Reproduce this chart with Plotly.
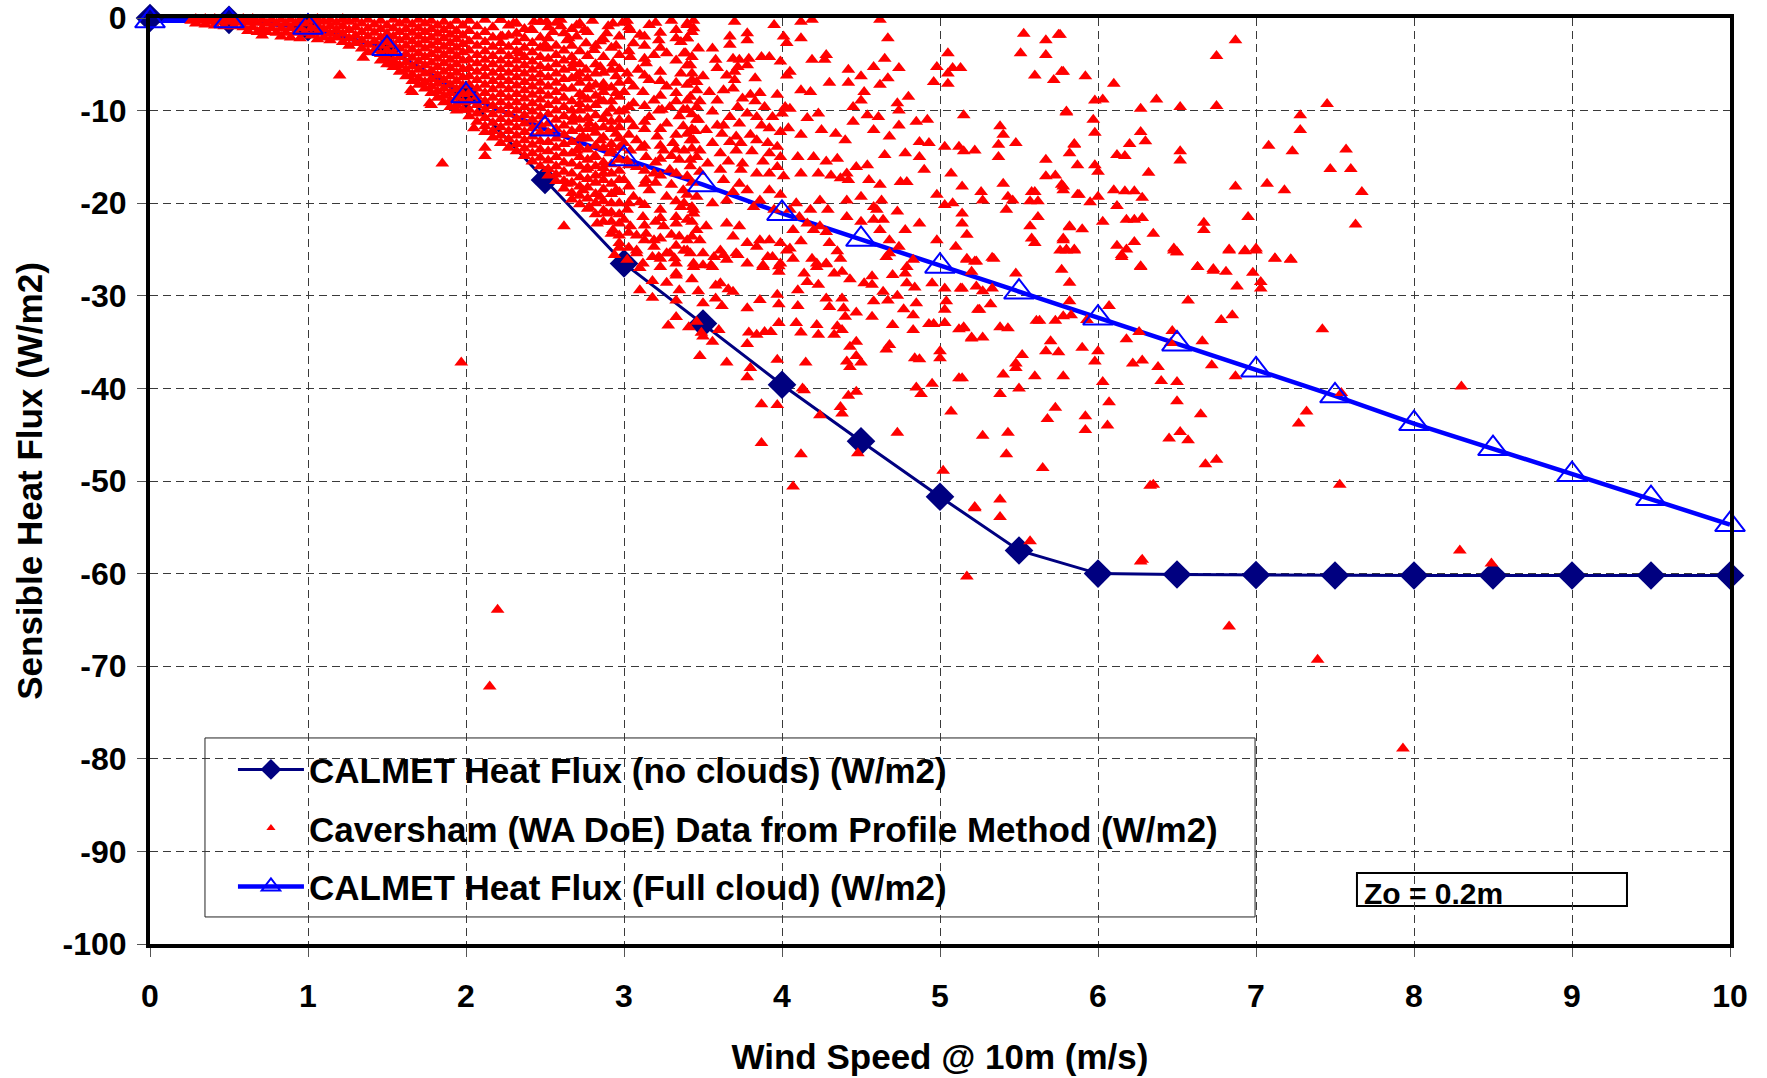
import plotly.graph_objects as go

# ---------------- data ----------------
wind_speed = [0, 0.5, 1, 1.5, 2, 2.5, 3, 3.5, 4, 4.5, 5, 5.5, 6, 6.5, 7, 7.5, 8, 8.5, 9, 9.5, 10]
flux_no_clouds = [0.0, -0.2, -1.0, -3.3, -8.3, -17.5, -26.5, -33.0, -39.6, -45.7, -51.7, -57.5,
                  -60.0, -60.1, -60.15, -60.2, -60.2, -60.2, -60.2, -60.2, -60.2]
flux_full_cloud = [-0.3, -0.3, -1.0, -3.3, -8.4, -12.0, -15.2, -18.0, -21.1, -23.9, -26.8, -29.6,
                   -32.4, -35.2, -38.0, -40.8, -43.8, -46.5, -49.3, -51.9, -54.7]

x_tick_vals = [0, 1, 2, 3, 4, 5, 6, 7, 8, 9, 10]
x_tick_text = ["0", "1", "2", "3", "4", "5", "6", "7", "8", "9", "10"]
y_tick_vals = [0, -10, -20, -30, -40, -50, -60, -70, -80, -90, -100]
y_tick_text = ["0", "-10", "-20", "-30", "-40", "-50", "-60", "-70", "-80", "-90", "-100"]

# Caversham observations: dense band at low wind speed, read column by column (x, [y ...])
caversham_dense = [
    (0.26, [-0.3]), (0.29, [-0.1, -0.6]), (0.32, [-0.3]), (0.35, [-0.1, -0.7]),
    (0.38, [-0.4]), (0.41, [-0.1, -0.8]), (0.44, [-0.4]), (0.47, [-0.1, -0.9]),
    (0.50, [-0.4]), (0.53, [-0.1, -0.9]), (0.56, [-0.5]), (0.59, [-0.1, -1.0]),
    (0.62, [-0.5, -1.4]), (0.65, [-0.1, -1.0]), (0.68, [-0.5, -1.5]), (0.71, [-0.2, -1.1, -1.9]),
    (0.74, [-0.6, -1.5]), (0.77, [-0.2, -1.1]), (0.80, [-0.6, -1.6]), (0.83, [-0.2, -1.1, -2.0]),
    (0.86, [-0.6, -1.6]), (0.89, [-0.2, -1.1, -2.1]), (0.92, [-0.6, -1.6]), (0.95, [-0.2, -1.1, -2.2]),
    (0.98, [-0.6, -1.6]),
    (1.02, [-0.3, -1.1, -1.9]), (1.06, [-0.1, -0.8, -1.6, -2.3]), (1.10, [-0.4, -1.2, -2.1]),
    (1.14, [-0.2, -0.9, -1.7, -2.4]), (1.18, [-0.5, -1.3, -2.1]), (1.22, [-0.1, -0.9, -1.7, -2.6]),
    (1.26, [-0.4, -1.3, -2.2, -3.0]), (1.30, [-0.2, -1.0, -1.9, -2.7]), (1.34, [-0.6, -1.5, -2.4, -3.3]),
    (1.38, [-0.2, -1.1, -2.0, -2.9, -3.7]), (1.42, [-0.7, -1.6, -2.5, -3.5]),
    (1.46, [-0.3, -1.2, -2.1, -3.0, -3.9, -4.6]), (1.50, [-0.8, -1.7, -2.6, -3.5, -4.3, -5.0]),
    (1.54, [-0.2, -1.1, -2.0, -2.9, -3.8, -4.6, -5.3]), (1.58, [-0.6, -1.5, -2.4, -3.3, -4.2, -5.1, -5.8]),
    (1.62, [-0.3, -1.2, -2.1, -3.0, -3.9, -4.8, -5.6, -6.3]),
    (1.66, [-0.7, -1.6, -2.5, -3.4, -4.3, -5.2, -6.1, -6.8]),
    (1.70, [-0.2, -1.1, -2.0, -2.9, -3.8, -4.7, -5.6, -6.5, -7.2]),
    (1.74, [-0.6, -1.5, -2.4, -3.3, -4.2, -5.1, -6.0, -6.9, -7.6]),
    (1.78, [-0.3, -1.2, -2.1, -3.0, -3.9, -4.8, -5.7, -6.6, -7.4, -8.1]),
    (1.82, [-0.8, -1.7, -2.6, -3.5, -4.4, -5.3, -6.2, -7.1, -7.9, -8.6]),
    (1.86, [-0.4, -1.3, -2.2, -3.1, -4.0, -4.9, -5.8, -6.7, -7.6, -8.4, -9.1]),
    (1.90, [-0.9, -1.8, -2.7, -3.6, -4.5, -5.4, -6.3, -7.2, -8.1, -8.9, -9.6]),
    (1.94, [-0.3, -1.4, -2.3, -3.2, -4.1, -5.0, -5.9, -6.8, -7.7, -8.6, -9.4, -10.0]),
    (1.98, [-0.8, -1.9, -2.8, -3.7, -4.6, -5.5, -6.4, -7.3, -8.2, -9.1, -9.9]),
    (2.02, [-0.3, -1.4, -2.5, -3.5, -4.5, -5.4, -6.3, -7.2, -8.1, -9.0, -9.9, -10.6]),
    (2.07, [-0.9, -2.0, -3.0, -4.0, -4.9, -5.8, -6.7, -7.6, -8.5, -9.4, -10.3, -11.2]),
    (2.12, [-0.2, -1.5, -2.6, -3.6, -4.5, -5.4, -6.3, -7.2, -8.1, -9.0, -9.9, -10.8, -11.7, -12.3]),
    (2.17, [-1.0, -2.1, -3.1, -4.1, -5.0, -5.9, -6.8, -7.7, -8.6, -9.5, -10.4, -11.3, -12.2, -12.9]),
    (2.22, [-0.2, -2.0, -2.7, -3.6, -4.6, -5.5, -6.4, -7.3, -8.2, -9.1, -10.0, -10.9, -11.8, -12.7, -13.5]),
    (2.27, [-0.8, -1.9, -3.1, -4.1, -5.0, -5.9, -6.8, -7.7, -8.6, -9.5, -10.4, -11.3, -12.2, -13.1, -14.0]),
    (2.32, [-0.6, -1.7, -2.6, -3.6, -4.6, -5.5, -6.4, -7.3, -8.2, -9.1, -10.0, -10.9, -11.8, -12.7, -13.6, -14.4]),
    (2.37, [-1.2, -2.2, -3.2, -4.2, -5.1, -6.0, -6.9, -7.8, -8.7, -9.6, -10.5, -11.4, -12.3, -13.2, -14.1, -14.9]),
    (2.42, [-1.3, -2.7, -3.7, -4.7, -5.6, -6.5, -7.4, -8.3, -9.2, -10.1, -11.0, -11.9, -12.8, -13.7, -14.6, -15.5]),
    (2.47, [-0.4, -2.1, -3.2, -4.2, -5.2, -6.1, -7.0, -7.9, -8.8, -9.7, -10.6, -11.5, -12.4, -13.3, -14.2, -15.1, -16.0]),
    (2.52, [-1.0, -2.2, -3.3, -4.4, -5.4, -6.4, -7.4, -8.4, -9.4, -10.4, -11.4, -12.4, -13.4, -14.4, -15.4, -16.3, -17.0]),
    (2.57, [-0.5, -3.0, -4.0, -5.0, -6.0, -7.0, -8.0, -9.0, -10.0, -11.0, -12.0, -13.0, -14.0, -15.0, -16.0, -16.9, -17.6]),
    (2.62, [-3.5, -4.6, -5.6, -6.6, -7.6, -8.6, -9.6, -10.6, -11.6, -12.6, -13.6, -14.6, -15.6, -16.6, -17.6, -18.4]),
    (2.67, [-1.2, -3.0, -4.2, -5.4, -6.5, -7.6, -9.0, -10.0, -11.2, -12.2, -13.4, -14.6, -15.7, -16.8, -17.8, -18.9, -19.6]),
    (2.72, [-3.6, -5.0, -6.0, -7.0, -8.2, -9.3, -10.0, -11.0, -12.0, -13.0, -14.0, -15.0, -16.0, -17.2, -18.2, -19.2, -20.1]),
    (2.77, [-1.5, -4.1, -6.5, -7.7, -8.8, -9.8, -10.8, -12.0, -13.0, -14.2, -15.3, -16.2, -17.4, -18.3, -19.5, -20.6]),
    (2.82, [-3.0, -5.0, -6.0, -7.2, -8.4, -9.4, -10.5, -11.8, -12.4, -13.8, -14.9, -16.0, -17.0, -17.8, -19.0, -20.0, -21.2]),
    (2.87, [-2.3, -4.2, -5.9, -7.5, -8.0, -9.0, -10.9, -11.8, -12.9, -14.0, -15.6, -16.2, -17.5, -18.5, -19.8, -20.8, -22.0]),
    (2.92, [-3.2, -5.6, -7.5, -9.0, -9.8, -11.2, -12.0, -13.6, -14.3, -15.8, -16.8, -17.9, -19.0, -20.0, -21.0, -22.0, -23.3]),
    (2.97, [-4.0, -5.5, -7.0, -8.5, -10.1, -11.8, -13.0, -14.0, -15.3, -16.5, -17.5, -18.8, -20.0, -21.2, -22.2, -23.5, -24.8]),
    (3.03, [-1.0, -3.6, -6.8, -9.6, -11.0, -12.6, -15.9, -18.2, -20.0, -23.2, -24.8]),
    (3.13, [-2.0, -4.4, -6.2, -9.5, -11.2, -13.8, -16.5, -17.9, -20.2, -22.4, -24.0]),
    (3.23, [-1.6, -3.2, -6.8, -8.4, -12.0, -13.8, -15.2, -17.0, -21.6, -23.8, -26.0]),
    (3.33, [-2.2, -4.6, -7.0, -9.0, -12.6, -14.2, -16.8, -19.8, -22.2, -24.6, -27.8]),
    (3.43, [-1.5, -4.2, -6.0, -10.4, -12.0, -14.1, -17.8, -20.4, -22.0, -23.6, -28.2]),
    (2.55, [-1.5]), (2.60, [-0.9]), (2.65, [-2.2]), (2.70, [-0.8]), (2.75, [-1.3]),
    (2.80, [-0.3]), (2.85, [-2.5]), (2.90, [-0.9]), (2.95, [-3.0]), (2.99, [-0.5]),
]

# Caversham observations: individually read points (x, y)
caversham_points_a = [
    (1.35, -4.3), (1.2, -6.2), (1.85, -15.7), (1.66, -8.0), (1.78, -9.4), (1.54, -5.0), (1.65, -7.8),
    (1.77, -9.2), (2.05, -11.9), (2.12, -14.0), (2.12, -14.9), (2.62, -22.5), (1.97, -37.2),
    (2.2, -63.9), (2.15, -72.2),
    (2.22, -0.2), (2.3, -0.6), (2.43, -0.4), (2.51, -0.4), (2.6, -0.2), (2.72, -0.6), (2.93, -0.6),
    (3.16, -0.76), (3.4, -0.6), (2.23, -2.0), (2.32, -1.66), (2.41, -1.3), (2.5, -2.9), (2.62, -1.66),
    (2.64, -2.4), (2.7, -2.0), (2.76, -2.74), (2.89, -1.66), (2.97, -2.0), (3.04, -1.3), (3.06, -2.74),
    (3.33, -1.3), (3.4, -2.2), (2.81, -3.46), (3.04, -4.2), (3.27, -3.8), (3.38, -3.8), (2.34, -3.8),
    (2.68, -4.9), (2.76, -5.6), (2.85, -5.3), (2.93, -4.9), (3.02, -6.0), (3.14, -4.9), (3.23, -5.8),
    (3.42, -5.1), (3.46, -6.9), (2.7, -6.3), (2.78, -7.4), (2.87, -7.1), (2.95, -6.3), (3.06, -7.4),
    (3.16, -6.7), (3.27, -7.4), (3.33, -8.1), (3.42, -8.5), (2.74, -8.5), (2.85, -8.9), (2.95, -8.1),
    (3.06, -9.2), (3.19, -8.9), (3.29, -9.6), (3.375, -9.9), (3.46, -9.6),
    (2.68, -10.7), (2.78, -11.4), (2.89, -10.3), (2.97, -11.0), (3.06, -11.7), (3.16, -10.7),
    (3.27, -11.4), (3.375, -11.7), (3.46, -11.0), (2.74, -12.8), (2.85, -13.2), (2.95, -12.5),
    (3.08, -13.2), (3.21, -12.8), (3.31, -13.5), (3.42, -13.2), (2.7, -14.3), (2.81, -15.0),
    (2.91, -14.6), (3.04, -14.3), (3.14, -15.0), (3.25, -14.3), (3.35, -15.3), (3.46, -15.0),
    (2.76, -16.4), (2.87, -16.8), (3.08, -16.1), (3.19, -16.8), (3.29, -16.4), (3.4, -17.1), (3.14, -17.5),
    (2.64, -17.9), (2.74, -18.6), (2.85, -19.3), (2.95, -18.6), (3.06, -19.3), (3.16, -18.6),
    (3.27, -19.3), (3.375, -18.6), (3.46, -19.3), (2.78, -20.4), (2.89, -21.1), (3.02, -20.7),
    (3.12, -21.5), (3.23, -20.7), (3.33, -21.5), (3.44, -21.1), (2.83, -22.2), (2.93, -22.9),
    (3.04, -22.5), (3.14, -23.3), (3.25, -22.5), (3.35, -23.6), (3.46, -22.9), (2.97, -24.3),
    (3.08, -25.1), (3.19, -24.7), (3.29, -25.4), (3.4, -25.1), (3.02, -26.1), (3.12, -26.5),
    (3.23, -26.9), (3.33, -26.5), (3.44, -26.9), (3.19, -24.0),
    (3.02, -0.3), (3.1, -1.8), (3.13, -3.0), (3.2, -0.5), (3.22, -2.4), (3.3, -0.3), (3.36, -2.6),
    (3.44, -0.3), (3.47, -3.3), (3.09, -5.6), (3.19, -4.0), (3.36, -6.0), (3.0, -8.0), (3.12, -8.0),
    (3.24, -9.9), (3.4, -7.2), (3.0, -10.0), (3.13, -12.0), (3.22, -10.0), (3.35, -10.6), (3.45, -12.2),
    (3.0, -13.5), (3.11, -14.0), (3.2, -15.6), (3.3, -14.9), (3.42, -16.0), (3.02, -15.4), (3.0, -17.5),
    (3.1, -19.9), (3.2, -17.8), (3.3, -18.0), (3.38, -20.0), (3.0, -21.8), (3.08, -23.5), (3.2, -22.0),
    (3.3, -23.4), (3.4, -24.0), (3.1, -27.0), (3.22, -25.8),
]

caversham_points_b = [
    (3.40, -0.76), (3.44, -1.12), (3.7, -0.4), (3.95, -0.76), (3.67, -2.0), (3.78, -1.66), (3.78, -2.4),
    (4.01, -2.0), (4.03, -2.7), (3.4, -2.2), (3.56, -3.3), (3.67, -2.9), (3.39, -3.8),
    (3.58, -4.5), (3.69, -4.4), (3.73, -4.5), (3.79, -4.4), (3.87, -4.2), (3.92, -4.2), (3.99, -4.7),
    (3.4, -5.1), (3.59, -5.4), (3.7, -5.8), (3.72, -5.3), (3.78, -5.1), (3.43, -6.7), (3.5, -6.3),
    (3.65, -6.2), (3.7, -6.7), (3.83, -6.5), (4.03, -6.2), (4.05, -5.8),
    (3.46, -7.8), (3.54, -8.0), (3.63, -7.8), (3.69, -7.6), (3.75, -8.7), (3.8, -8.3), (3.86, -8.1),
    (3.97, -8.3), (3.4, -8.9), (3.48, -9.0), (3.59, -8.9), (3.72, -9.6), (3.83, -9.0), (3.89, -9.6),
    (4.02, -9.6), (4.05, -9.8), (3.4, -9.9), (3.56, -10.1), (3.67, -10.7),
    (3.78, -10.3), (3.84, -10.7), (3.94, -10.7), (4.0, -10.3), (3.47, -11.0), (3.59, -11.6),
    (3.63, -11.6), (3.73, -11.4), (3.87, -11.6), (3.92, -11.9), (3.4, -12.5), (3.52, -12.1),
    (3.62, -12.5), (3.71, -12.8), (3.8, -12.6), (3.99, -12.3), (4.04, -11.9), (3.44, -13.2),
    (3.56, -13.5), (3.67, -13.4), (3.74, -13.5), (3.84, -13.2), (3.91, -13.5), (3.97, -13.9),
    (3.38, -14.3), (3.48, -14.3), (3.61, -14.6), (3.71, -14.3), (3.81, -14.4), (3.92, -14.6),
    (3.99, -15.0), (3.42, -15.3), (3.53, -15.7), (3.66, -15.5), (3.75, -15.7), (3.88, -15.5),
    (3.97, -16.1), (3.48, -16.6), (3.61, -16.4), (3.74, -16.4), (3.84, -16.8), (3.92, -16.8), (4.01, -17.1),
    (3.63, -17.5), (3.73, -17.9), (3.69, -18.8), (3.78, -18.6), (3.86, -19.7), (3.92, -18.6),
    (3.4, -19.1), (3.36, -20.4), (3.56, -20.0), (3.65, -19.7), (3.44, -20.7), (3.99, -19.1),
    (3.95, -20.7), (4.05, -20.7), (3.82, -20.4),
    (3.4, -21.8), (3.52, -22.5), (3.48, -24.0), (3.65, -22.2), (3.73, -22.5), (3.69, -23.6),
    (3.78, -24.3), (3.86, -24.0), (3.92, -24.0), (3.99, -24.3), (3.38, -25.1), (3.5, -25.4),
    (3.61, -25.1), (3.71, -25.4), (3.84, -24.7), (3.94, -25.8), (3.44, -26.5), (3.56, -26.9),
    (3.65, -26.1), (3.78, -26.5), (3.88, -26.9), (3.99, -26.5), (4.03, -25.1), (4.11, -21.5),
    (4.16, -22.2), (4.07, -22.9),
    (4.09, -20.0), (4.18, -20.7), (4.24, -19.7), (4.29, -20.7), (4.41, -19.7), (4.5, -19.3),
]

caversham_points_c = [
    (4.12, -0.4), (4.19, -0.2), (4.62, -0.2), (4.12, -2.2), (4.67, -2.2), (4.19, -4.5), (4.27, -4.5),
    (4.28, -4.0), (4.42, -5.6), (4.58, -5.3), (4.65, -4.4), (4.74, -5.4), (4.5, -6.3), (4.67, -6.5),
    (4.98, -5.3), (5.05, -3.8), (5.08, -5.4), (5.13, -5.4), (5.05, -6.0), (4.96, -6.9), (5.05, -7.1),
    (4.3, -7.0), (4.42, -7.0), (4.62, -7.2), (4.12, -7.8), (4.18, -8.0), (4.52, -8.0), (4.5, -8.9),
    (4.73, -9.2), (4.8, -8.5), (4.45, -9.6), (4.54, -10.5), (4.61, -10.7), (4.74, -10.0), (4.23, -10.3),
    (4.16, -10.8), (4.45, -11.2), (4.58, -12.1), (4.74, -11.6), (4.85, -11.2), (4.92, -11.0),
    (4.25, -12.1), (4.34, -12.5), (4.12, -12.6), (4.4, -13.2), (4.68, -12.8), (4.87, -13.4),
    (4.93, -13.5), (5.15, -10.5), (5.38, -11.7), (5.4, -12.6), (5.48, -13.5), (5.37, -13.7),
    (5.03, -13.9), (5.12, -13.9), (5.15, -14.4), (5.22, -14.3), (5.37, -15.0), (5.67, -15.3),
    (5.8, -10.1), (5.85, -13.7), (5.82, -14.6), (5.53, -1.7), (5.67, -2.4), (5.75, -1.8), (5.51, -3.8),
    (5.67, -4.0), (5.6, -6.2), (5.72, -6.7), (5.77, -5.8),
    (4.1, -15.0), (4.2, -15.0), (4.28, -15.5), (4.35, -15.2), (4.65, -14.8), (4.78, -14.6), (4.87, -15.0),
    (4.12, -16.8), (4.23, -16.8), (4.31, -17.0), (4.41, -16.8), (4.47, -16.1), (4.54, -15.9),
    (4.37, -17.3), (4.42, -17.5), (4.55, -17.5), (4.62, -18.0), (4.75, -17.7), (4.79, -17.7),
    (4.9, -16.4), (5.07, -16.8), (5.14, -18.2), (5.26, -18.8), (5.27, -19.7), (5.4, -17.9),
    (5.43, -19.3), (5.46, -19.7), (5.58, -18.8), (5.6, -18.8), (5.67, -17.1), (5.73, -17.0),
    (5.77, -18.0), (5.78, -18.6), (5.87, -19.1), (5.62, -19.8), (5.57, -19.8), (5.42, -20.7),
    (5.03, -20.2), (5.08, -20.0), (5.14, -21.1), (5.14, -22.2), (4.98, -19.1), (4.63, -19.7),
    (4.58, -20.4), (4.6, -20.7), (4.73, -20.9), (4.41, -21.5), (4.5, -22.0), (4.58, -21.8),
    (4.64, -21.8), (4.62, -22.9), (4.68, -24.0), (4.78, -22.9), (4.87, -22.2), (4.98, -24.0),
    (5.17, -23.4), (5.1, -24.7), (5.17, -26.0), (5.34, -26.0), (5.57, -22.5), (5.62, -21.5),
    (5.58, -23.8), (5.6, -24.3), (5.78, -24.0), (5.82, -22.5), (5.76, -25.1), (5.8, -25.1),
    (5.85, -25.1), (4.2, -22.9), (4.24, -22.5), (4.28, -23.1), (4.3, -24.3), (4.28, -26.5),
    (4.35, -25.2), (4.37, -26.0), (4.66, -25.8), (4.68, -25.4), (4.74, -24.7), (4.79, -26.9),
    (4.83, -26.1), (4.12, -24.1), (4.19, -26.0), (4.22, -26.9), (4.05, -24.9), (4.07, -26.0),
]

caversham_points_d = [
    (5.76, -1.8), (6.87, -2.4), (6.75, -4.1), (5.78, -5.8), (5.92, -6.3), (6.1, -7.1), (5.98, -8.9),
    (6.03, -8.8), (6.37, -8.8), (6.27, -9.8), (6.52, -9.6), (6.75, -9.5), (5.8, -10.2), (5.97, -11.0),
    (5.98, -12.4), (6.27, -12.3), (6.3, -13.3), (5.85, -13.6), (6.2, -13.6), (6.12, -14.8),
    (6.17, -14.9), (6.52, -14.4), (6.52, -15.4), (5.87, -15.9), (5.98, -15.9), (6.0, -16.6),
    (6.32, -16.7), (5.78, -18.2), (5.88, -19.1), (6.0, -19.3), (6.1, -18.6), (6.17, -18.7),
    (6.23, -18.7), (6.28, -19.4), (5.95, -19.9), (6.12, -20.3), (6.87, -18.2), (7.28, -10.5),
    (7.28, -12.1), (7.45, -9.3), (7.08, -13.8), (7.23, -14.4), (7.57, -14.2), (7.47, -16.3),
    (7.6, -16.3), (7.07, -17.9), (7.18, -18.6), (7.67, -18.8), (6.95, -21.5), (7.63, -22.3),
    (6.03, -22.0), (6.18, -21.8), (6.23, -21.8), (6.28, -21.6), (6.35, -23.3), (5.82, -22.6),
    (5.9, -22.8), (5.78, -23.8), (5.8, -25.0), (5.85, -25.0), (6.12, -24.6), (6.18, -25.0),
    (6.23, -24.2), (6.15, -25.8), (6.27, -26.9), (6.48, -24.9), (6.5, -25.3), (6.67, -22.1),
    (6.67, -22.9), (6.83, -25.0), (6.93, -25.1), (7.0, -24.9), (7.12, -26.0), (7.22, -26.1),
    (6.63, -26.9), (6.73, -27.1), (6.81, -27.4), (6.98, -27.5), (7.03, -29.2), (6.85, -32.1),
]

caversham_points_e = [
    (3.1, -29.4), (3.18, -30.2), (3.18, -28.4), (3.27, -28.6), (3.33, -27.6), (3.35, -29.4),
    (3.33, -30.5), (3.28, -33.2), (3.33, -32.3), (3.41, -33.4), (3.46, -32.8), (3.47, -29.5),
    (3.5, -30.8), (3.49, -34.0), (3.5, -34.4), (3.56, -34.95), (3.6, -33.7), (3.48, -36.5),
    (3.65, -37.2), (3.58, -28.9), (3.61, -28.65), (3.66, -29.3), (3.69, -29.55), (3.58, -30.3),
    (3.62, -31.1), (3.78, -31.35), (3.86, -30.45), (3.88, -26.85), (3.91, -25.8), (3.98, -26.8),
    (3.97, -29.9), (3.98, -30.9), (3.98, -32.95), (3.79, -33.95), (3.84, -34.2), (3.89, -33.9),
    (3.93, -33.9), (3.78, -35.2), (3.8, -37.8), (3.78, -38.8), (3.97, -36.9), (3.87, -41.7),
    (3.97, -41.8), (3.87, -45.9), (4.12, -47.1), (4.07, -50.6), (4.15, -37.2), (4.1, -29.4),
    (4.1, -31.1), (4.09, -32.95), (4.12, -33.95), (4.22, -33.15), (4.23, -34.2), (4.14, -27.6),
    (4.16, -28.5), (4.22, -26.5), (4.28, -26.6), (4.33, -27.6), (4.38, -27.4), (4.43, -28.2),
    (4.23, -28.8), (4.28, -30.3), (4.3, -31.2), (4.38, -30.3), (4.39, -31.35), (4.4, -32.25),
    (4.47, -31.8), (4.35, -33.3), (4.38, -33.7), (4.33, -34.2), (4.47, -34.95), (4.43, -35.5),
    (4.47, -36.5), (4.5, -37.2), (4.41, -37.1), (4.43, -37.7), (4.13, -40.0), (4.14, -40.2),
    (4.24, -42.9), (4.37, -42.0), (4.38, -42.7), (4.42, -40.8), (4.47, -40.35), (4.48, -47.0),
    (4.73, -44.8), (5.02, -48.9), (5.22, -52.8), (4.52, -28.65), (4.57, -27.9), (4.57, -28.8),
    (4.58, -30.6), (4.57, -32.25), (4.64, -29.55), (4.67, -30.5), (4.7, -27.75), (4.73, -30.0),
    (4.7, -33.15), (4.66, -35.8), (4.68, -35.3), (4.78, -27.6), (4.79, -28.65), (4.84, -29.1),
    (4.85, -30.8), (4.77, -31.45), (4.83, -32.1), (4.83, -33.7), (4.84, -36.75), (4.87, -36.85),
    (4.85, -39.9), (4.88, -40.6), (4.95, -39.5), (4.93, -33.05), (4.96, -33.05), (5.03, -32.95),
    (5.0, -36.0), (5.0, -36.75), (5.03, -31.5), (5.04, -30.6), (4.95, -28.65), (5.03, -29.2),
    (5.13, -29.2), (5.12, -33.6), (5.15, -33.5), (5.2, -34.6), (5.12, -38.9), (5.07, -42.5),
    (5.17, -26.1), (5.22, -26.3), (5.24, -31.5),
    (2.94, -25.6), (3.08, -25.4), (3.18, -25.8), (3.27, -25.4), (3.32, -25.95), (3.42, -25.4),
    (3.5, -26.7), (3.55, -26.7), (3.57, -25.8), (3.63, -25.6), (3.72, -25.6), (3.88, -26.7), (3.98, -27.4),
]

caversham_points_f = [
    (5.23, -26.3), (5.33, -25.9), (5.2, -27.4), (5.14, -29.2), (5.23, -29.0), (5.27, -29.5),
    (5.33, -29.2), (5.48, -27.6), (5.25, -31.5), (5.32, -30.9), (5.15, -33.4), (5.2, -34.5),
    (5.27, -34.5), (5.38, -33.4), (5.43, -33.5), (5.52, -36.4), (5.48, -37.3), (5.48, -37.8),
    (5.4, -38.5), (5.6, -38.7), (5.78, -38.7), (5.14, -38.9), (5.5, -40.0), (5.38, -40.6),
    (5.27, -45.1), (5.43, -44.8), (5.42, -47.1), (5.65, -48.6), (5.73, -42.1), (5.68, -43.3),
    (5.61, -32.7), (5.63, -32.7), (5.73, -32.7), (5.78, -32.2), (5.67, -36.0), (5.7, -34.9),
    (5.75, -36.1), (5.77, -27.2), (5.82, -28.6), (5.82, -30.6), (5.83, -32.1), (5.93, -32.6),
    (5.9, -35.6), (6.0, -36.0), (5.98, -37.1), (6.03, -39.3), (6.07, -41.5), (6.07, -31.1),
    (5.92, -43.0), (5.92, -44.5), (6.06, -44.0), (6.15, -25.6), (6.27, -26.8), (6.26, -33.9),
    (6.18, -34.7), (6.22, -37.3), (6.28, -37.0), (6.38, -37.7), (6.4, -39.2), (6.47, -33.8),
    (6.46, -35.1), (6.5, -39.3), (6.5, -41.4), (6.45, -45.4), (6.52, -44.7), (6.57, -45.6),
    (6.65, -42.8), (6.68, -48.2), (6.75, -47.7), (6.33, -50.5), (6.35, -50.4), (6.28, -58.5),
    (5.57, -56.5), (5.17, -60.3), (5.22, -52.95), (5.38, -52.0), (5.38, -53.9), (6.57, -30.5),
    (6.63, -26.9), (6.73, -27.3), (6.78, -32.6), (6.66, -34.9), (6.72, -37.5), (6.87, -38.7),
    (6.88, -29.0), (7.03, -28.5), (7.12, -25.95), (7.22, -26.06), (7.42, -33.6), (7.32, -42.5),
    (7.27, -43.8), (7.53, -50.4), (6.48, -25.1), (6.5, -25.3), (6.83, -25.1), (6.93, -25.2),
    (7.0, -25.1),
    (6.27, -58.7), (6.83, -65.7), (7.39, -69.3), (7.93, -78.9), (8.49, -58.9), (8.29, -57.5),
    (8.3, -39.8), (7.54, -40.5),
]

# ---------------- assemble scatter ----------------
cav_x, cav_y = [], []
for xv, ys in caversham_dense:
    for yv in ys:
        cav_x.append(xv)
        cav_y.append(yv)
for group in (caversham_points_a, caversham_points_b, caversham_points_c,
              caversham_points_d, caversham_points_e, caversham_points_f):
    for xv, yv in group:
        cav_x.append(xv)
        cav_y.append(yv)

FONT = "Liberation Sans, Arial, Helvetica, sans-serif"
NAVY = "#000080"
BLUE = "#0000FF"
RED = "#FF0000"

name_no_clouds = "CALMET Heat Flux (no clouds) (W/m2)"
name_caversham = "Caversham (WA DoE) Data from Profile Method (W/m2)"
name_full_cloud = "CALMET Heat Flux (Full cloud) (W/m2)"

fig = go.Figure()

# lines first (the series lines sit beneath the markers)
fig.add_trace(go.Scatter(x=wind_speed, y=flux_no_clouds, mode="lines", showlegend=False,
                         line=dict(color=NAVY, width=3), cliponaxis=False, hoverinfo="skip"))
fig.add_trace(go.Scatter(x=wind_speed, y=flux_full_cloud, mode="lines", showlegend=False,
                         line=dict(color=BLUE, width=4.5), cliponaxis=False, hoverinfo="skip"))
# markers
fig.add_trace(go.Scatter(x=wind_speed, y=flux_no_clouds, mode="markers", showlegend=False,
                         name=name_no_clouds,
                         marker=dict(symbol="diamond", size=22, color=NAVY), cliponaxis=False))
fig.add_trace(go.Scatter(x=cav_x, y=cav_y, mode="markers", showlegend=False, name=name_caversham,
                         marker=dict(symbol="triangle-up", size=12, color=RED, line=dict(width=0)),
                         cliponaxis=False))
fig.add_trace(go.Scatter(x=wind_speed, y=flux_full_cloud, mode="markers", showlegend=False,
                         name=name_full_cloud,
                         marker=dict(symbol="triangle-up-open", size=26, color=BLUE,
                                     line=dict(width=2, color=BLUE)), cliponaxis=False))
# legend entries
fig.add_trace(go.Scatter(x=[None], y=[None], mode="lines+markers", name=name_no_clouds, legendgroup="g1",
                         line=dict(color=NAVY, width=3), marker=dict(symbol="diamond", size=22, color=NAVY)))
fig.add_trace(go.Scatter(x=[None], y=[None], mode="markers", name=name_caversham, legendgroup="g2",
                         marker=dict(symbol="triangle-up", size=8, color=RED)))
fig.add_trace(go.Scatter(x=[None], y=[None], mode="lines+markers", name=name_full_cloud, legendgroup="g3",
                         line=dict(color=BLUE, width=4.5),
                         marker=dict(symbol="triangle-up-open", size=26, color=BLUE, line=dict(width=2, color=BLUE))))

axis_common = dict(
    showline=True, linecolor="black", linewidth=4, mirror=True,
    showgrid=True, gridcolor="#3a3a3a", gridwidth=1, griddash="8px,5px",
    zeroline=False, ticks="outside", ticklen=9, tickwidth=1, tickcolor="#555",
    tickfont=dict(family=FONT, size=32, color="black", weight="bold"),
    automargin=False, ticklabeloverflow="allow",
)

fig.update_xaxes(
    range=[0, 10], tickvals=x_tick_vals, ticktext=x_tick_text,
    title=dict(text="Wind Speed @ 10m (m/s)", font=dict(family=FONT, size=35, color="black", weight="bold"),
               standoff=32),
    ticklabelstandoff=12,
    **axis_common,
)
fig.update_yaxes(
    range=[-100, 0], tickvals=y_tick_vals, ticktext=y_tick_text,
    title=dict(text="Sensible Heat Flux (W/m2)", font=dict(family=FONT, size=35, color="black", weight="bold"),
               standoff=10),
    ticklabelstandoff=4,
    **axis_common,
)

fig.update_layout(
    width=1767, height=1078,
    margin=dict(l=150, r=37, t=18, b=134),
    paper_bgcolor="white", plot_bgcolor="white",
    font=dict(family=FONT, color="black"),
    showlegend=True,
    legend=dict(
        x=0.0525, y=0.2201, xanchor="left", yanchor="top",
        bgcolor="rgba(0,0,0,0)", borderwidth=0,
        font=dict(family=FONT, size=35, color="black", weight="bold"),
        traceorder="grouped", tracegroupgap=10, itemwidth=66,
    ),
    shapes=[
        dict(type="rect", xref="paper", yref="paper", x0=0.0348, x1=0.6994, y0=0.0292, y1=0.2225,
             line=dict(color="#222", width=1), fillcolor="white", layer="between"),
        dict(type="rect", xref="paper", yref="paper", x0=0.7639, x1=0.9348, y0=0.0410, y1=0.0767,
             line=dict(color="black", width=2), fillcolor="white", layer="between"),
    ],
    annotations=[dict(text="Zo = 0.2m", xref="paper", yref="paper", x=0.767, y=0.054,
                      xanchor="left", yanchor="middle", showarrow=False,
                      font=dict(family=FONT, size=30, color="black", weight="bold"))],
)

# remove the default page margin so the 1767x1078 figure fills the window exactly
fig.write_html("out.html",
               config={"displayModeBar": False},
               post_script="document.body.style.margin='0';document.body.style.overflow='hidden';")
